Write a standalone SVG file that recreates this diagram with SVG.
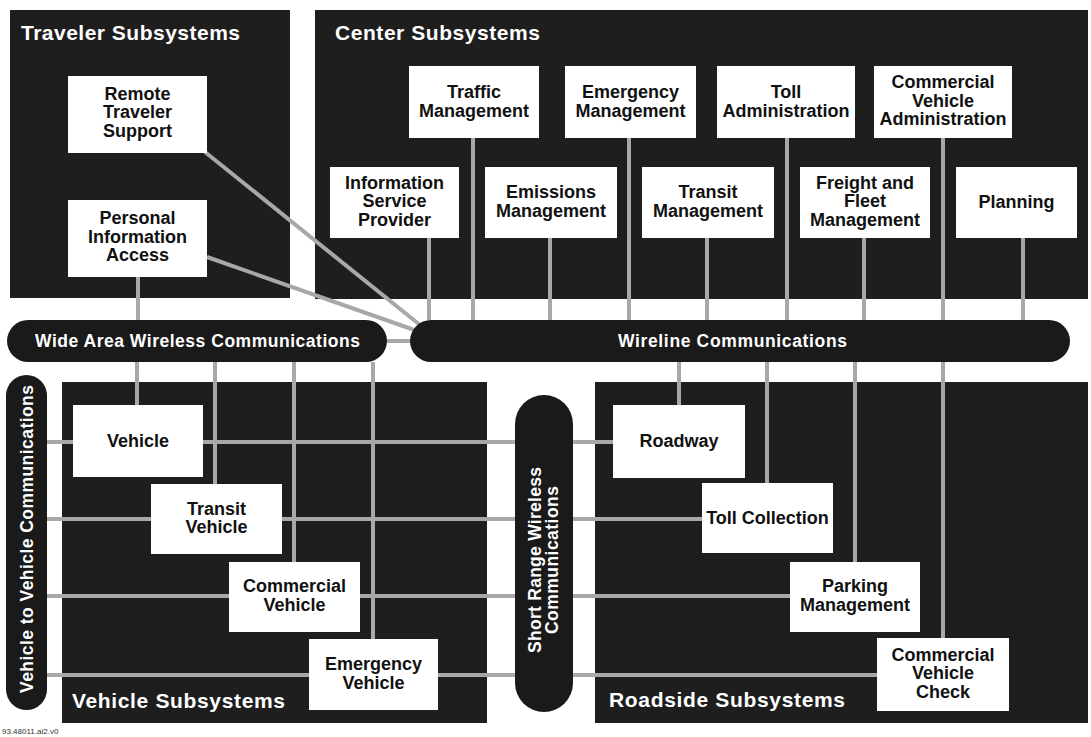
<svg xmlns="http://www.w3.org/2000/svg" width="1091" height="737" viewBox="0 0 1091 737">
<style>
.box{fill:#1e1e1e}
.pill{fill:#1a1a1a}
.nb{fill:#ffffff}
.nt{font-family:"Liberation Sans",Arial,sans-serif;font-weight:bold;font-size:18px;fill:#111;text-anchor:middle}
.hd{font-family:"Liberation Sans",Arial,sans-serif;font-weight:bold;font-size:21px;fill:#fff}
.pt{font-family:"Liberation Sans",Arial,sans-serif;font-weight:bold;font-size:17.5px;fill:#fff;text-anchor:middle}
.conn line,.conn polyline{stroke:#a8a8a8;stroke-width:4;fill:none}
.fn{font-family:"Liberation Sans",Arial,sans-serif;font-size:8px;fill:#333}
</style>
<rect width="1091" height="737" fill="#fff"/>
<g id="traveler-subsystems"><rect class="box" x="10" y="10" width="280" height="288"/><text class="hd" x="21" y="40" textLength="219">Traveler Subsystems</text></g>
<g id="center-subsystems"><rect class="box" x="315" y="10" width="773" height="289"/><text class="hd" x="335" y="40" textLength="205">Center Subsystems</text></g>
<g id="vehicle-subsystems"><rect class="box" x="62" y="382" width="425" height="341"/><text class="hd" x="72" y="708" textLength="213">Vehicle Subsystems</text></g>
<g id="roadside-subsystems"><rect class="box" x="595" y="382" width="493" height="341"/><text class="hd" x="609" y="707" textLength="236">Roadside Subsystems</text></g>
<g id="connectors" class="conn">
<line x1="138" y1="277" x2="138" y2="320"/>
<line x1="137" y1="362" x2="137" y2="405"/>
<line x1="215" y1="362" x2="215" y2="484"/>
<line x1="294" y1="362" x2="294" y2="562"/>
<line x1="373" y1="362" x2="373" y2="639"/>
<line x1="387" y1="341" x2="412" y2="341"/>
<line x1="205" y1="152" x2="420" y2="325"/>
<line x1="207" y1="257" x2="420" y2="332"/>
<line x1="429" y1="238" x2="429" y2="320"/>
<line x1="473" y1="138" x2="473" y2="320"/>
<line x1="550" y1="238" x2="550" y2="320"/>
<line x1="629" y1="138" x2="629" y2="320"/>
<line x1="707" y1="238" x2="707" y2="320"/>
<line x1="787" y1="138" x2="787" y2="320"/>
<line x1="864" y1="238" x2="864" y2="320"/>
<line x1="943" y1="138" x2="943" y2="320"/>
<line x1="1023" y1="238" x2="1023" y2="320"/>
<line x1="679" y1="362" x2="679" y2="405"/>
<line x1="767" y1="362" x2="767" y2="483"/>
<line x1="855" y1="362" x2="855" y2="562"/>
<line x1="943" y1="362" x2="943" y2="638"/>
<line x1="47" y1="442" x2="613" y2="442"/>
<line x1="47" y1="519" x2="702" y2="519"/>
<line x1="47" y1="596" x2="790" y2="596"/>
<line x1="47" y1="675" x2="877" y2="675"/>
</g>
<g id="wide-area-wireless"><rect class="pill" x="7" y="320" width="380" height="42" rx="21"/><text class="pt" x="197.5" y="347" textLength="325">Wide Area Wireless Communications</text></g>
<g id="wireline"><rect class="pill" x="410" y="320" width="660" height="42" rx="21"/><text class="pt" x="732.5" y="347" textLength="229">Wireline Communications</text></g>
<g id="vehicle-to-vehicle"><rect class="pill" x="6" y="375" width="41" height="335" rx="20.5"/><text class="pt" transform="translate(33,539) rotate(-90)" x="0" y="0" font-size="18" textLength="308">Vehicle to Vehicle Communications</text></g>
<g id="short-range-wireless"><rect class="pill" x="515" y="395" width="58" height="317" rx="29"/><g transform="translate(541,560) rotate(-90)"><text class="pt" x="0" y="0" textLength="186">Short Range Wireless</text><text class="pt" x="0" y="17" textLength="148">Communications</text></g></g>
<g id="remote-traveler-support"><rect class="nb" x="68" y="76" width="139" height="77"/><text class="nt" x="137.5" y="99.5">Remote</text><text class="nt" x="137.5" y="118">Traveler</text><text class="nt" x="137.5" y="136.5">Support</text></g>
<g id="personal-information-access"><rect class="nb" x="68" y="200" width="139" height="77"/><text class="nt" x="137.5" y="224">Personal</text><text class="nt" x="137.5" y="242.5">Information</text><text class="nt" x="137.5" y="261">Access</text></g>
<g id="traffic-management"><rect class="nb" x="409" y="66" width="130" height="72"/><text class="nt" x="474" y="98">Traffic</text><text class="nt" x="474" y="117">Management</text></g>
<g id="emergency-management"><rect class="nb" x="565" y="66" width="131" height="72"/><text class="nt" x="630.5" y="98">Emergency</text><text class="nt" x="630.5" y="117">Management</text></g>
<g id="toll-administration"><rect class="nb" x="717" y="66" width="138" height="72"/><text class="nt" x="786" y="98">Toll</text><text class="nt" x="786" y="117">Administration</text></g>
<g id="commercial-vehicle-administration"><rect class="nb" x="874" y="66" width="138" height="72"/><text class="nt" x="943" y="88">Commercial</text><text class="nt" x="943" y="106.5">Vehicle</text><text class="nt" x="943" y="125">Administration</text></g>
<g id="information-service-provider"><rect class="nb" x="330" y="167" width="129" height="71"/><text class="nt" x="394.5" y="188.5">Information</text><text class="nt" x="394.5" y="207">Service</text><text class="nt" x="394.5" y="225.5">Provider</text></g>
<g id="emissions-management"><rect class="nb" x="485" y="167" width="132" height="71"/><text class="nt" x="551" y="198">Emissions</text><text class="nt" x="551" y="217">Management</text></g>
<g id="transit-management"><rect class="nb" x="642" y="167" width="132" height="71"/><text class="nt" x="708" y="198">Transit</text><text class="nt" x="708" y="217">Management</text></g>
<g id="freight-fleet-management"><rect class="nb" x="800" y="167" width="130" height="71"/><text class="nt" x="865" y="188.5">Freight and</text><text class="nt" x="865" y="207">Fleet</text><text class="nt" x="865" y="225.5">Management</text></g>
<g id="planning"><rect class="nb" x="956" y="167" width="121" height="71"/><text class="nt" x="1016.5" y="208">Planning</text></g>
<g id="vehicle"><rect class="nb" x="73" y="405" width="130" height="72"/><text class="nt" x="138" y="447">Vehicle</text></g>
<g id="transit-vehicle"><rect class="nb" x="151" y="484" width="131" height="70"/><text class="nt" x="216.5" y="515">Transit</text><text class="nt" x="216.5" y="533">Vehicle</text></g>
<g id="commercial-vehicle"><rect class="nb" x="229" y="562" width="131" height="70"/><text class="nt" x="294.5" y="592">Commercial</text><text class="nt" x="294.5" y="611">Vehicle</text></g>
<g id="emergency-vehicle"><rect class="nb" x="309" y="639" width="129" height="71"/><text class="nt" x="373.5" y="670">Emergency</text><text class="nt" x="373.5" y="688.5">Vehicle</text></g>
<g id="roadway"><rect class="nb" x="613" y="405" width="132" height="73"/><text class="nt" x="679" y="447">Roadway</text></g>
<g id="toll-collection"><rect class="nb" x="702" y="483" width="131" height="70"/><text class="nt" x="767.5" y="524">Toll Collection</text></g>
<g id="parking-management"><rect class="nb" x="790" y="562" width="130" height="70"/><text class="nt" x="855" y="592">Parking</text><text class="nt" x="855" y="611">Management</text></g>
<g id="commercial-vehicle-check"><rect class="nb" x="877" y="638" width="132" height="73"/><text class="nt" x="943" y="660.5">Commercial</text><text class="nt" x="943" y="679">Vehicle</text><text class="nt" x="943" y="697.5">Check</text></g>
<text class="fn" x="2" y="734">93.48011.ai2.v0</text>
</svg>
